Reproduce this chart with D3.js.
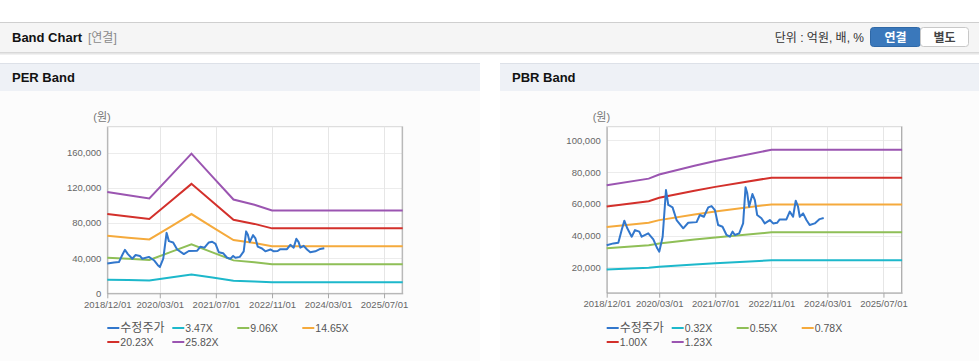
<!DOCTYPE html>
<meta charset="utf-8">
<style>
    body { margin: 0; background: #fff; }
    text { font-family: "Liberation Sans", "Noto Sans CJK KR", sans-serif; }
</style>
<svg width="979" height="361"></svg>
<script src="https://d3js.org/d3.v7.min.js"></script>
<script>

    // 수정주가 (same series in both charts)
    var priceDates = ["2018-12-01", "2019-01-28", "2019-03-12", "2019-04-10", "2019-05-03", "2019-05-29",
        "2019-07-06", "2019-08-04", "2019-09-10", "2019-10-01", "2019-11-27", "2020-01-10", "2020-02-13",
        "2020-03-02", "2020-03-31", "2020-04-29", "2020-05-19", "2020-06-25", "2020-07-30", "2020-09-26",
        "2020-11-08", "2021-01-20", "2021-02-17", "2021-03-24", "2021-05-01", "2021-05-30", "2021-06-28",
        "2021-07-26", "2021-09-02", "2021-10-07", "2021-11-05", "2021-11-28", "2021-12-18", "2022-01-25",
        "2022-02-28", "2022-03-21", "2022-04-04", "2022-04-21", "2022-05-20", "2022-06-10", "2022-06-30",
        "2022-08-06", "2022-09-04", "2022-10-18", "2022-11-16", "2022-12-20", "2023-01-12", "2023-03-11",
        "2023-04-09", "2023-05-08", "2023-05-31", "2023-06-20", "2023-07-05", "2023-08-03", "2023-09-01",
        "2023-09-29", "2023-11-12", "2023-12-25", "2024-01-29"];
    var priceValues = [33900, 35100, 35500, 43500, 49400, 44600,
        39300, 43500, 42500, 39300, 41400, 37600, 32000,
        29900, 39300, 68700, 59300, 57800, 49800, 44600,
        48100, 48500, 53000, 51900, 57800, 58600, 56100,
        46700, 45600, 40400, 39300, 42500, 40400, 41400,
        47700, 70400, 67000, 58200, 66200, 62400, 53000,
        50900, 47700, 49800, 47700, 48100, 50200, 50200,
        55100, 51900, 62000, 58200, 51900, 54000, 49800,
        46700, 47700, 50400, 51100];

    // PER band: EPS per date, multiples from legend
    var perDates = ["2018-12-01", "2019-06-01", "2019-12-01", "2020-06-01", "2020-12-01",
        "2021-06-01", "2021-12-01", "2022-06-01", "2022-11-01", "2025-12-10"];
    var perEps = [4460, 4320, 4180, 5160, 6150, 5140, 4130, 3900, 3650, 3650];
    var perMultiples = [3.47, 9.06, 14.65, 20.23, 25.82];
    var perYTicks = [0, 40000, 80000, 120000, 160000];

    // PBR band: BPS per date
    var pbrDates = ["2018-12-01", "2019-12-01", "2020-03-01", "2021-01-01", "2021-07-01",
        "2022-11-01", "2025-12-10"];
    var pbrBps = [58300, 61700, 63800, 68300, 70700, 76500, 76500];
    var pbrMultiples = [0.32, 0.55, 0.78, 1.00, 1.23];
    var pbrYTicks = [20000, 40000, 60000, 80000, 100000];

    var xTickLabels = ["2018/12/01", "2020/03/01", "2021/07/01", "2022/11/01", "2024/03/01", "2025/07/01"];

    var priceColor = "#3277cc";
    var bandColors = ["#1db8cb", "#8fbf57", "#f5aa3c", "#d3302b", "#9b55b1"];

    var parse = d3.timeParse("%Y-%m-%d"),
        parseTick = d3.timeParse("%Y/%m/%d");

    var svg = d3.select("svg");

    // top bar
    svg.append("rect").attr("x", 0).attr("y", 22).attr("width", 979).attr("height", 30).attr("fill", "#f5f5f5");
    svg.append("line").attr("x1", 0).attr("x2", 979).attr("y1", 22.5).attr("y2", 22.5).attr("stroke", "#cfcfcf");
    [["#d8d8d8", 52.5], ["#e6e6e6", 53.5], ["#f1f1f1", 54.5]].forEach(function (s) {
        svg.append("line").attr("x1", 0).attr("x2", 979).attr("y1", s[1]).attr("y2", s[1]).attr("stroke", s[0]);
    });
    svg.append("text").attr("x", 12).attr("y", 42).attr("font-size", 13).attr("font-weight", "bold")
        .attr("fill", "#111").text("Band Chart");
    svg.append("text").attr("x", 88).attr("y", 42).attr("font-size", 12).attr("fill", "#8a8a8a").text("[연결]");
    svg.append("text").attr("x", 864).attr("y", 42).attr("font-size", 12).attr("fill", "#333")
        .attr("text-anchor", "end").text("단위 : 억원, 배, %");
    svg.append("rect").attr("x", 870.5).attr("y", 27.5).attr("width", 50).attr("height", 19).attr("rx", 3)
        .attr("fill", "#3a78bb").attr("stroke", "#2f68a6");
    svg.append("rect").attr("x", 920.5).attr("y", 27.5).attr("width", 48).attr("height", 19).attr("rx", 3)
        .attr("fill", "#fff").attr("stroke", "#c8c8c8");
    svg.append("text").attr("x", 895.5).attr("y", 42).attr("font-size", 12).attr("font-weight", "bold")
        .attr("text-anchor", "middle").attr("fill", "#fff").text("연결");
    svg.append("text").attr("x", 944.5).attr("y", 42).attr("font-size", 12).attr("font-weight", "bold")
        .attr("text-anchor", "middle").attr("fill", "#444").text("별도");

    function drawPanel(p) {
        var g = svg.append("g").attr("transform", "translate(" + p.left + ",0)");

        g.append("rect").attr("x", 0).attr("y", 63).attr("width", p.width).attr("height", 298).attr("fill", "#fcfcfc");
        g.append("rect").attr("x", 0).attr("y", 63).attr("width", p.width).attr("height", 28).attr("fill", "#eef1f6");
        g.append("line").attr("x1", 0).attr("x2", p.width).attr("y1", 63.5).attr("y2", 63.5).attr("stroke", "#dde1e8");
        g.append("text").attr("x", 12).attr("y", 82).attr("font-size", 13).attr("font-weight", "bold")
            .attr("fill", "#111").text(p.title);

        var x0 = p.plotX, x1 = p.plotX + 295.4, top = 126.7, bottom = p.bottom;

        var x = d3.scaleTime()
            .domain([parse("2018-12-01"), parse("2025-12-10")])
            .range([x0, x1]);
        var y = d3.scaleLinear().domain(p.yDomain).range([bottom, top]);

        g.append("text").attr("x", x0 - 14).attr("y", 121).attr("font-size", 11).attr("fill", "#777")
            .text("(원)");

        // plot background + grid
        g.append("rect").attr("x", x0).attr("y", top).attr("width", x1 - x0).attr("height", bottom - top)
            .attr("fill", "#fff").attr("stroke", "#d6d6d6");

        g.selectAll(".hgrid").data(p.yTicks.filter(function (v) { return v > p.yDomain[0]; }))
            .enter().append("line")
            .attr("x1", x0).attr("x2", x1)
            .attr("y1", function (d) { return Math.round(y(d)) + 0.5; })
            .attr("y2", function (d) { return Math.round(y(d)) + 0.5; })
            .attr("stroke", "#ececec");

        var tickDates = xTickLabels.map(function (s) { return parseTick(s); });
        g.selectAll(".vgrid").data(tickDates.slice(1)).enter().append("line")
            .attr("x1", function (d) { return Math.round(x(d)) + 0.5; })
            .attr("x2", function (d) { return Math.round(x(d)) + 0.5; })
            .attr("y1", top).attr("y2", bottom)
            .attr("stroke", "#e6e6e6");

        g.append("line").attr("x1", x1 - 0.5).attr("x2", x1 - 0.5).attr("y1", top).attr("y2", bottom).attr("stroke", "#a8a8a8");

        // axes
        var yAxis = d3.axisLeft(y).tickValues(p.yTicks).tickSize(0).tickPadding(6).tickFormat(d3.format(","));
        var ya = g.append("g").attr("transform", "translate(" + x0 + ",0)").call(yAxis);
        ya.select(".domain").attr("stroke", "#a8a8a8");
        ya.selectAll("text").attr("font-size", 9.5).attr("fill", "#666")
            .attr("font-family", "'Liberation Sans', sans-serif");

        var xAxis = d3.axisBottom(x).tickValues(tickDates).tickSize(5).tickSizeOuter(0).tickPadding(3)
            .tickFormat(d3.timeFormat("%Y/%m/%d"));
        var xa = g.append("g").attr("transform", "translate(0," + bottom + ")").call(xAxis);
        xa.select(".domain").attr("stroke", "#a8a8a8");
        xa.selectAll("line").attr("stroke", "#a8a8a8");
        xa.selectAll("text").attr("font-size", 9.5).attr("fill", "#666")
            .attr("font-family", "'Liberation Sans', sans-serif");

        // bands
        var bandDates = p.bandDates.map(parse);
        p.multiples.forEach(function (m, i) {
            var pts = p.base.map(function (v, j) { return [bandDates[j], v * m]; });
            g.append("path").datum(pts)
                .attr("fill", "none").attr("stroke", bandColors[i]).attr("stroke-width", 2)
                .attr("d", d3.line().x(function (d) { return x(d[0]); }).y(function (d) { return y(d[1]); }));
        });

        // price
        var pricePts = priceDates.map(function (d, i) { return [parse(d), priceValues[i]]; });
        g.append("path").datum(pricePts)
            .attr("fill", "none").attr("stroke", priceColor).attr("stroke-width", 2).attr("stroke-linejoin", "round")
            .attr("d", d3.line().x(function (d) { return x(d[0]); }).y(function (d) { return y(d[1]); }));

        // legend
        var items = [{ name: "수정주가", color: priceColor }].concat(p.multiples.map(function (m, i) {
            return { name: m.toFixed(2) + "X", color: bandColors[i] };
        }));
        var lg = g.selectAll(".lg").data(items).enter().append("g")
            .attr("transform", function (d, i) {
                return "translate(" + (x0 + (i % 4) * 65) + "," + (328 + Math.floor(i / 4) * 14) + ")";
            });
        lg.append("line").attr("x1", 0).attr("x2", 12).attr("y1", 0).attr("y2", 0)
            .attr("stroke", function (d) { return d.color; }).attr("stroke-width", 2);
        lg.append("text").attr("x", 13).attr("y", 4).attr("font-size", function (d, i) { return i === 0 ? 12 : 10.5; })
            .attr("fill", "#555").text(function (d) { return d.name; });
    }

    drawPanel({
        left: 0, width: 480, title: "PER Band", plotX: 107.3, bottom: 293.3,
        yDomain: [0, 189400], yTicks: perYTicks,
        bandDates: perDates, base: perEps, multiples: perMultiples
    });

    drawPanel({
        left: 500, width: 479, title: "PBR Band", plotX: 106.7, bottom: 292.7,
        yDomain: [4050, 108600], yTicks: pbrYTicks,
        bandDates: pbrDates, base: pbrBps, multiples: pbrMultiples
    });

</script>
